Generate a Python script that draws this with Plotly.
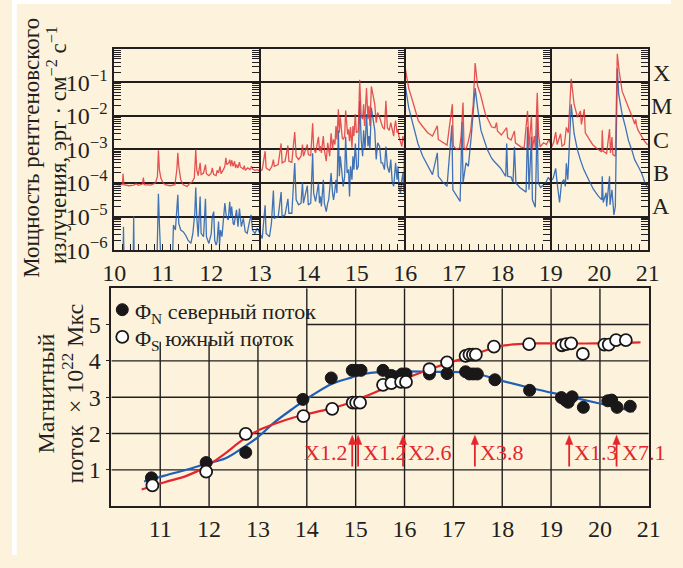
import plotly.graph_objects as go

# ---------------- GOES X-ray flux, exponent of erg cm^-2 s^-1 ----------------
# long channel (1-8 A), red
long_day = [
    10.00, 10.10, 10.17, 10.18, 10.20, 10.30, 10.40, 10.45, 10.50, 10.58, 10.60, 10.62,
    10.75, 10.85, 10.89, 10.91, 10.93, 10.96, 11.00, 11.05, 11.15, 11.25, 11.29, 11.31,
    11.33, 11.37, 11.42, 11.50, 11.55, 11.60, 11.65, 11.68, 11.70, 11.73, 11.77, 11.79,
    11.84, 11.88, 11.90, 11.95, 12.00, 12.05, 12.10, 12.15, 12.20, 12.25, 12.28, 12.30,
    12.32, 12.36, 12.38, 12.40, 12.45, 12.48, 12.50, 12.55, 12.58, 12.60, 12.66, 12.70,
    12.75, 12.80, 12.85, 12.90, 12.95, 13.00, 13.05, 13.11, 13.13, 13.20, 13.25, 13.28,
    13.30, 13.38, 13.44, 13.46, 13.52, 13.58, 13.60, 13.66, 13.72, 13.75, 13.80, 13.85,
    13.88, 13.90, 13.98, 14.00, 14.05, 14.09, 14.11, 14.15, 14.21, 14.23, 14.31, 14.33,
    14.37, 14.42, 14.47, 14.50, 14.55, 14.62, 14.64, 14.66, 14.70, 14.75, 14.77, 14.81,
    14.85, 14.87, 14.90, 14.94, 14.97, 14.99, 15.03, 15.06, 15.09, 15.14, 15.16, 15.20,
    15.23, 15.27, 15.30, 15.37, 15.47, 15.53, 15.60, 15.63, 15.67, 15.73, 15.80, 15.83,
    15.87, 15.93, 15.99, 16.00, 16.07, 16.17, 16.27, 16.35, 16.46, 16.56, 16.66, 16.68,
    16.76, 16.86, 16.97, 16.99, 17.06, 17.12, 17.15, 17.19, 17.21, 17.25, 17.30, 17.35,
    17.40, 17.44, 17.49, 17.55, 17.65, 17.78, 17.85, 17.88, 17.90, 17.98, 18.09, 18.11,
    18.18, 18.25, 18.27, 18.38, 18.45, 18.52, 18.55, 18.60, 18.62, 18.66, 18.68, 18.72,
    18.75, 18.78, 18.85, 18.91, 18.96, 19.02, 19.06, 19.10, 19.13, 19.17, 19.20, 19.23,
    19.28, 19.32, 19.36, 19.42, 19.48, 19.55, 19.61, 19.63, 19.69, 19.71, 19.77, 19.86,
    19.95, 20.05, 20.06, 20.08, 20.15, 20.21, 20.23, 20.26, 20.28, 20.33, 20.37, 20.41,
    20.47, 20.54, 20.60, 20.67, 20.73, 20.75, 20.77, 20.80, 20.87, 20.94, 21.00,
]
long_exp = [
    -4.03, -4.06, -4.04, -3.72, -4.05, -4.08, -4.06, -4.02, -4.07, -4.03, -3.84, -4.05,
    -4.06, -4.00, -3.80, -3.02, -3.60, -3.85, -3.98, -4.05, -4.08, -4.05, -3.60, -3.10,
    -3.50, -3.90, -4.05, -4.10, -4.02, -3.98, -3.85, -3.00, -3.60, -3.78, -3.40, -3.75,
    -3.70, -3.45, -3.72, -3.78, -3.70, -3.75, -3.78, -3.70, -3.72, -3.60, -3.50, -3.25,
    -3.45, -3.40, -3.30, -3.50, -3.50, -3.35, -3.55, -3.55, -3.38, -3.52, -3.58, -3.62,
    -3.55, -3.60, -3.58, -3.62, -3.60, -3.65, -3.60, -3.05, -3.55, -3.62, -3.50, -3.30,
    -3.50, -3.45, -2.82, -3.40, -3.35, -2.88, -3.35, -3.38, -2.48, -3.20, -3.30, -3.20,
    -2.85, -3.20, -2.85, -3.15, -3.18, -2.22, -2.95, -3.10, -2.62, -3.05, -2.60, -3.00,
    -3.35, -3.10, -2.52, -3.00, -2.85, -1.80, -2.50, -2.04, -2.65, -2.60, -1.84, -2.55,
    -2.75, -2.33, -2.95, -2.60, -1.94, -2.50, -2.45, -0.92, -2.00, -1.65, -2.30, -1.17,
    -2.10, -2.30, -1.12, -1.65, -2.04, -2.33, -1.55, -2.35, -2.43, -2.38, -2.14, -2.50,
    -2.62, -2.91, -2.82, -0.59, -1.17, -1.65, -2.15, -2.30, -2.50, -2.60, -2.29, -2.70,
    -2.78, -2.87, -1.65, -2.90, -3.00, -2.95, -2.60, -1.60, -2.95, -3.00, -2.75, -2.40,
    -1.65, -0.42, -1.10, -1.36, -1.94, -2.33, -2.35, -2.20, -2.45, -2.57, -2.35, -2.65,
    -2.72, -2.45, -2.80, -2.92, -2.95, -1.85, -2.95, -2.00, -3.00, -2.60, -2.95, -1.31,
    -2.60, -2.92, -2.80, -2.85, -2.70, -2.92, -2.78, -2.48, -2.85, -2.62, -2.53, -2.90,
    -2.85, -2.34, -2.50, -0.89, -1.65, -2.04, -1.85, -2.25, -1.80, -2.50, -2.65, -2.85,
    -2.97, -3.07, -2.43, -3.05, -3.12, -2.39, -3.10, -2.63, -3.15, -3.20, -0.15, -0.68,
    -1.26, -1.55, -1.75, -2.00, -2.24, -2.10, -2.30, -2.43, -2.62, -2.77, -2.87,
]
# extra samples from the busy interval before the X2.6 flare
long_day_busy = [12.02, 12.12, 12.18, 12.42, 12.52, 12.68, 12.83, 14.25, 14.27, 14.40,
                 14.44, 14.52, 14.57, 14.59, 14.68, 14.72, 14.83, 14.92, 15.12, 15.25,
                 15.40, 15.43, 15.50, 15.57, 15.70, 15.76, 15.78, 15.85, 15.90, 15.95]
long_exp_busy = [-3.55, -3.62, -3.50, -3.32, -3.45, -3.48, -3.50, -2.90, -3.10, -2.80,
                 -3.20, -2.70, -2.30, -2.70, -2.30, -2.70, -2.40, -2.30, -2.10, -1.70,
                 -2.20, -1.90, -2.20, -2.40, -2.20, -2.60, -2.30, -2.40, -2.80, -2.60]

# short channel (0.5-4 A), blue
short_day = [
    10.00, 10.18, 10.19, 10.20, 10.39, 10.40, 10.41, 10.88, 10.90, 10.91, 10.93, 10.96,
    11.20, 11.22, 11.26, 11.29, 11.31, 11.33, 11.37, 11.42, 11.47, 11.52, 11.58, 11.62,
    11.66, 11.68, 11.70, 11.73, 11.77, 11.79, 11.84, 11.88, 11.90, 11.95, 12.00, 12.05,
    12.07, 12.12, 12.15, 12.17, 12.22, 12.25, 12.28, 12.31, 12.35, 12.38, 12.40, 12.45,
    12.50, 12.55, 12.58, 12.62, 12.70, 12.78, 12.85, 12.90, 12.95, 13.00, 13.05, 13.11,
    13.13, 13.20, 13.24, 13.28, 13.30, 13.38, 13.44, 13.46, 13.52, 13.58, 13.60, 13.66,
    13.72, 13.75, 13.80, 13.85, 13.88, 13.90, 13.98, 14.00, 14.05, 14.09, 14.11, 14.15,
    14.21, 14.23, 14.31, 14.33, 14.37, 14.42, 14.47, 14.50, 14.55, 14.62, 14.64, 14.66,
    14.70, 14.75, 14.77, 14.80, 14.85, 14.87, 14.90, 14.94, 14.97, 15.00, 15.03, 15.06,
    15.09, 15.14, 15.17, 15.20, 15.23, 15.27, 15.30, 15.37, 15.47, 15.53, 15.60, 15.63,
    15.67, 15.73, 15.80, 15.83, 15.87, 15.93, 15.97, 16.00, 16.07, 16.17, 16.26, 16.36,
    16.46, 16.56, 16.66, 16.68, 16.76, 16.86, 16.96, 16.98, 17.06, 17.13, 17.17, 17.19,
    17.25, 17.30, 17.36, 17.40, 17.44, 17.49, 17.56, 17.69, 17.78, 17.83, 17.96, 18.07,
    18.09, 18.11, 18.18, 18.22, 18.25, 18.28, 18.36, 18.49, 18.52, 18.55, 18.60, 18.62,
    18.66, 18.68, 18.72, 18.74, 18.79, 18.89, 18.95, 19.00, 19.05, 19.10, 19.13, 19.18,
    19.22, 19.27, 19.30, 19.32, 19.35, 19.38, 19.42, 19.48, 19.55, 19.61, 19.68, 19.78,
    19.88, 19.98, 20.05, 20.06, 20.08, 20.14, 20.15, 20.21, 20.22, 20.26, 20.28, 20.30,
    20.33, 20.37, 20.40, 20.47, 20.54, 20.60, 20.67, 20.73, 20.80, 20.87, 20.94, 21.00,
]
short_exp = [
    -6.30, -6.30, -5.30, -6.30, -6.30, -4.98, -6.30, -6.30, -4.80, -4.32, -5.20, -6.30,
    -6.30, -5.25, -5.40, -4.90, -4.35, -5.20, -5.40, -5.45, -5.55, -5.70, -5.80, -5.50,
    -4.90, -4.13, -5.00, -5.60, -4.40, -5.50, -5.60, -4.47, -5.60, -5.80, -5.50, -4.85,
    -5.70, -5.75, -5.15, -5.85, -5.60, -5.10, -4.60, -5.00, -5.10, -4.56, -5.00, -5.20,
    -4.90, -5.30, -4.76, -5.30, -5.45, -5.20, -5.40, -5.50, -5.35, -5.50, -5.65, -4.66,
    -5.50, -5.60, -5.20, -4.22, -5.05, -5.00, -4.27, -5.00, -4.95, -4.47, -4.90, -4.90,
    -3.40, -4.50, -4.65, -4.60, -3.98, -4.60, -4.08, -4.65, -4.60, -3.11, -4.30, -4.55,
    -4.00, -4.60, -3.90, -4.60, -4.85, -4.50, -3.70, -4.30, -4.20, -2.43, -3.80, -3.20,
    -3.90, -3.80, -2.62, -3.70, -4.40, -3.50, -3.90, -3.60, -2.82, -3.60, -3.50, -1.55,
    -2.70, -2.43, -3.00, -1.94, -2.90, -3.00, -1.75, -2.43, -2.91, -3.40, -2.91, -3.50,
    -3.69, -3.98, -3.40, -3.90, -4.17, -3.88, -4.27, -1.10, -1.75, -2.33, -2.82, -3.20,
    -3.50, -3.75, -3.10, -3.80, -3.95, -4.10, -2.28, -4.20, -4.38, -4.55, -2.18, -4.00,
    -3.40, -3.50, -2.60, -1.80, -1.17, -1.75, -2.43, -3.00, -3.26, -3.35, -3.55, -3.80,
    -2.82, -3.80, -3.82, -3.98, -2.92, -4.00, -4.13, -4.27, -2.33, -4.20, -2.62, -4.50,
    -4.66, -4.72, -2.04, -4.00, -4.13, -4.00, -3.83, -3.95, -3.85, -3.56, -4.00, -4.58,
    -4.00, -3.90, -4.10, -3.41, -3.90, -2.80, -1.65, -2.53, -3.02, -3.31, -3.60, -3.90,
    -4.19, -4.39, -4.50, -3.80, -4.58, -4.29, -4.70, -3.80, -4.65, -4.20, -4.70, -4.95,
    -4.70, -0.58, -1.36, -1.95, -2.34, -2.73, -3.02, -3.31, -3.50, -3.70, -3.99, -4.14,
]
short_day_busy = [12.02, 12.10, 12.19, 12.42, 12.47, 12.52, 12.66, 12.74, 12.82, 14.25,
                  14.27, 14.40, 14.44, 14.52, 14.57, 14.59, 14.68, 14.72, 14.83, 14.92,
                  15.12, 15.25, 15.40, 15.43, 15.50, 15.57, 15.70, 15.76, 15.78, 15.85,
                  15.90, 15.95]
short_exp_busy = [-5.00, -5.85, -5.40, -4.70, -5.25, -4.80, -5.05, -5.50, -4.95, -4.40,
                  -4.70, -4.60, -4.20, -4.50, -3.90, -4.30, -3.50, -4.10, -3.60, -3.20,
                  -3.20, -2.60, -3.30, -2.80, -3.40, -3.60, -3.30, -4.10, -3.60, -3.50,
                  -4.30, -3.70]

decade_exp = [-6, -5, -4, -3, -2, -1]
decade_text = ["10<sup>−6</sup>", "10<sup>−5</sup>", "10<sup>−4</sup>",
               "10<sup>−3</sup>", "10<sup>−2</sup>", "10<sup>−1</sup>"]
goes_letters = ["X", "M", "C", "B", "A"]
goes_letter_exp = [-0.72, -1.71, -2.71, -3.70, -4.69]
day_ticks_top = [10, 11, 12, 13, 14, 15, 16, 17, 18, 19, 20, 21]
panel_breaks = [13, 16, 19]

# ---------------- magnetic flux, 10^22 Mx ----------------
north_day = [10.82, 11.94, 12.75, 13.92, 14.50, 14.93, 15.01, 15.11, 15.56, 15.73,
             15.95, 16.03, 16.51, 16.87, 17.25, 17.33, 17.41, 17.49, 17.85, 18.56,
             19.21, 19.29, 19.35, 19.43, 19.66, 20.16, 20.24, 20.35, 20.62]
north_flux = [0.78, 1.20, 1.48, 2.94, 3.53, 3.74, 3.74, 3.74, 3.74, 3.60,
              3.64, 3.64, 3.64, 3.65, 3.70, 3.64, 3.64, 3.64, 3.48, 3.19,
              2.99, 2.92, 2.86, 3.01, 2.72, 2.90, 2.92, 2.72, 2.75]
south_day = [10.84, 11.94, 12.75, 13.93, 14.52, 14.94, 15.01, 15.09, 15.56, 15.73,
             15.93, 16.03, 16.51, 16.87, 17.25, 17.33, 17.40, 17.46, 17.83, 18.55,
             19.22, 19.31, 19.41, 19.65, 20.09, 20.18, 20.33, 20.53]
south_flux = [0.57, 0.95, 1.99, 2.48, 2.68, 2.85, 2.85, 2.85, 3.34, 3.39,
              3.42, 3.42, 3.77, 3.96, 4.14, 4.17, 4.17, 4.17, 4.39, 4.46,
              4.43, 4.46, 4.48, 4.19, 4.45, 4.45, 4.57, 4.57]

north_fit_day = [10.67, 11.09, 11.55, 11.95, 12.34, 12.67, 13.00, 13.33, 13.73, 14.12,
                 14.52, 14.91, 15.17, 15.47, 16.00, 16.65, 17.31, 17.64, 17.97, 18.63,
                 19.29, 19.95, 20.70]
north_fit_flux = [0.68, 0.84, 1.01, 1.17, 1.32, 1.59, 1.90, 2.30, 2.70, 3.06,
                  3.37, 3.54, 3.64, 3.69, 3.71, 3.70, 3.68, 3.59, 3.46, 3.24,
                  3.04, 2.84, 2.61]
south_fit_day = [10.62, 11.09, 11.55, 11.95, 12.34, 12.67, 13.00, 13.33, 13.73, 14.12,
                 14.52, 14.91, 15.17, 15.34, 16.00, 16.65, 17.31, 17.64, 17.97, 18.63,
                 19.29, 19.95, 20.83]
south_fit_flux = [0.46, 0.66, 0.84, 1.10, 1.46, 1.81, 2.08, 2.26, 2.44, 2.57,
                  2.70, 2.86, 3.01, 3.10, 3.50, 3.83, 4.12, 4.28, 4.41, 4.48,
                  4.48, 4.48, 4.51]

flare_day = [14.93, 15.05, 15.97, 17.44, 19.37, 20.34]
flare_class = ["X1.2", "X1.2", "X2.6", "X3.8", "X1.3", "X7.1"]
flare_label_left = [True, False, False, False, False, False]
flux_ticks = [1, 2, 3, 4, 5]
day_ticks_bottom = [11, 12, 13, 14, 15, 16, 17, 18, 19, 20, 21]

# ---------------- styling ----------------
W, H = 683, 568
BG = "#FDF3DD"
INK = "#231F20"
RED = "#E3262C"
BLUE = "#1F5FB4"
LONG_RED = "#E0363A"
SHORT_BLUE = "#1E5BB0"
SERIF = "Liberation Serif"

top_px = dict(left=106, right=659, top=50, bottom=256)
bot_px = dict(left=103, right=660, top=295, bottom=518)


def merged(days, exps, more_days, more_exps):
    pts = sorted(zip(days + more_days, exps + more_exps))
    return [p[0] for p in pts], [10 ** p[1] for p in pts]


short_x, short_y = merged(short_day, short_exp, short_day_busy, short_exp_busy)
long_x, long_y = merged(long_day, long_exp, long_day_busy, long_exp_busy)

fig = go.Figure()

fig.add_trace(go.Scatter(
    x=short_x, y=short_y, mode="lines",
    line=dict(color=SHORT_BLUE, width=1.3), opacity=0.85,
    xaxis="x", yaxis="y", showlegend=False, hoverinfo="skip"))
fig.add_trace(go.Scatter(
    x=long_x, y=long_y, mode="lines",
    line=dict(color=LONG_RED, width=1.3), opacity=0.85,
    xaxis="x", yaxis="y", showlegend=False, hoverinfo="skip"))

# fitted curves and measurements
fig.add_trace(go.Scatter(
    x=north_fit_day, y=north_fit_flux, mode="lines", line_shape="spline",
    line=dict(color=BLUE, width=2.2), xaxis="x2", yaxis="y2",
    showlegend=False, hoverinfo="skip"))
fig.add_trace(go.Scatter(
    x=south_fit_day, y=south_fit_flux, mode="lines", line_shape="spline",
    line=dict(color=RED, width=2.2), xaxis="x2", yaxis="y2",
    showlegend=False, hoverinfo="skip"))
fig.add_trace(go.Scatter(
    x=north_day, y=north_flux, mode="markers",
    marker=dict(symbol="circle", size=12, color="#1A1718",
                line=dict(color="#1A1718", width=1)),
    xaxis="x2", yaxis="y2", showlegend=False, hoverinfo="skip"))
fig.add_trace(go.Scatter(
    x=south_day, y=south_flux, mode="markers",
    marker=dict(symbol="circle", size=12, color="white",
                line=dict(color="#1A1718", width=1.8)),
    xaxis="x2", yaxis="y2", showlegend=False, hoverinfo="skip"))

minor_vals = [k * 10.0 ** e for e in decade_exp for k in range(2, 10)]
decade_vals = [10.0 ** e for e in decade_exp]

axis_font = dict(family=SERIF, size=24, color=INK)

layout = dict(
    width=W, height=H, autosize=False,
    margin=dict(l=0, r=0, t=0, b=0, pad=0),
    paper_bgcolor=BG, plot_bgcolor=BG,
    showlegend=False,
    font=dict(family=SERIF, color=INK),
    xaxis=dict(
        domain=[top_px["left"] / W, top_px["right"] / W], anchor="y",
        range=[10, 21], tickmode="array", tickvals=day_ticks_top,
        ticks="inside", ticklen=6, tickwidth=1, tickcolor=INK,
        minor=dict(dtick=1 / 6, ticks="inside", ticklen=6, tickwidth=1, tickcolor=INK),
        showline=True, linecolor=INK, linewidth=1.6, mirror=True,
        showgrid=False, zeroline=False, tickfont=axis_font),
    yaxis=dict(
        domain=[1 - top_px["bottom"] / H, 1 - top_px["top"] / H], anchor="x",
        type="log", range=[-6, 0], tickmode="array",
        tickvals=decade_vals, ticktext=decade_text,
        ticks="inside", ticklen=7, tickwidth=1, tickcolor=INK,
        minor=dict(tickmode="array", tickvals=minor_vals, ticks="inside",
                   ticklen=7, tickwidth=1, tickcolor=INK),
        showgrid=True, gridcolor=INK, gridwidth=1.7,
        showline=True, linecolor=INK, linewidth=1.6, mirror="allticks",
        zeroline=False, tickfont=axis_font),
    xaxis2=dict(
        domain=[bot_px["left"] / W, bot_px["right"] / W], anchor="y2",
        range=[10, 21], tickmode="array", tickvals=day_ticks_bottom, ticks="",
        showline=True, linecolor=INK, linewidth=1.6, mirror=True,
        showgrid=False, zeroline=False, tickfont=axis_font),
    yaxis2=dict(
        domain=[1 - bot_px["bottom"] / H, 1 - bot_px["top"] / H], anchor="x2",
        range=[0, 6], tickmode="array", tickvals=flux_ticks,
        ticks="outside", ticklen=4, tickwidth=1.4, tickcolor=INK,
        showline=True, linecolor=INK, linewidth=1.6, mirror=True,
        showgrid=False, zeroline=False, tickfont=axis_font),
)

# separators between the three-day blocks, each carrying its own log ticks
day_px = (top_px["right"] - top_px["left"]) / 11
for i, d in enumerate(panel_breaks):
    key = f"yaxis{3 + i}"
    layout[key] = dict(
        overlaying="y", anchor="free", side="right",
        position=(top_px["left"] + (d - 10) * day_px) / W,
        type="log", range=[-6, 0], tickmode="array", tickvals=decade_vals,
        ticks="inside", ticklen=7, tickwidth=1, tickcolor=INK,
        minor=dict(tickmode="array", tickvals=minor_vals, ticks="inside",
                   ticklen=7, tickwidth=1, tickcolor=INK),
        showticklabels=False, showgrid=False, zeroline=False,
        showline=True, linecolor=INK, linewidth=1.6)
    fig.add_trace(go.Scatter(x=[], y=[], xaxis="x", yaxis=f"y{3 + i}",
                             showlegend=False, hoverinfo="skip"))

fig.update_layout(**layout)

shapes = []
# thin white edge along the left and top of the page
shapes.append(dict(type="rect", xref="paper", yref="paper", x0=0, x1=5 / W, y0=0, y1=1,
                   fillcolor="white", line=dict(width=0), layer="below"))
shapes.append(dict(type="rect", xref="paper", yref="paper", x0=0, x1=1, y0=1 - 4 / H, y1=1,
                   fillcolor="white", line=dict(width=0), layer="below"))

# grid of the flux panel (the key box keeps its corner clear)
key_right_day, key_bottom_flux = 14, 4.53
for d in day_ticks_bottom[:-1]:
    top = key_bottom_flux if d < key_right_day else 6
    shapes.append(dict(type="line", xref="x2", yref="y2", x0=d, x1=d, y0=0, y1=top,
                       line=dict(color=INK, width=1.4), layer="below"))
for f in flux_ticks:
    left = key_right_day if f > key_bottom_flux else 10
    shapes.append(dict(type="line", xref="x2", yref="y2", x0=left, x1=21, y0=f, y1=f,
                       line=dict(color=INK, width=1.4), layer="below"))

# flare arrows: shaft plus a narrow filled head
arrow_tail, arrow_tip, head_base, head_half = 1.09, 1.95, 1.70, 0.075
for d in flare_day:
    shapes.append(dict(type="line", xref="x2", yref="y2", x0=d, x1=d,
                       y0=arrow_tail, y1=head_base + 0.05,
                       line=dict(color=RED, width=1.8)))
    shapes.append(dict(type="path", xref="x2", yref="y2",
                       path=f"M {d - head_half},{head_base} L {d},{arrow_tip} "
                            f"L {d + head_half},{head_base} Z",
                       fillcolor=RED, line=dict(color=RED, width=0.5)))

# key symbols
key_x = 10.223
key_rows = [5.41, 4.66]
shapes.append(dict(type="circle", xref="x2", yref="y2", xsizemode="pixel", ysizemode="pixel",
                   xanchor=key_x, yanchor=key_rows[0], x0=-6, x1=6, y0=-6, y1=6,
                   fillcolor="#1A1718", line=dict(color="#1A1718", width=1)))
shapes.append(dict(type="circle", xref="x2", yref="y2", xsizemode="pixel", ysizemode="pixel",
                   xanchor=key_x, yanchor=key_rows[1], x0=-6, x1=6, y0=-6, y1=6,
                   fillcolor="white", line=dict(color="#1A1718", width=1.8)))
fig.update_layout(shapes=shapes)

ann = []
key_font = dict(family=SERIF, size=22, color=INK)
ann.append(dict(xref="x2", yref="y2", x=10.45, y=key_rows[0], xanchor="left", yanchor="middle",
                text="Φ<sub>N</sub> северный поток", showarrow=False, font=key_font, yshift=-3))
ann.append(dict(xref="x2", yref="y2", x=10.45, y=key_rows[1], xanchor="left", yanchor="middle",
                text="Φ<sub>S</sub> южный поток", showarrow=False, font=key_font, yshift=-3))

# flare classes beside the arrows
for d, label, left in zip(flare_day, flare_class, flare_label_left):
    ann.append(dict(xref="x2", yref="y2", x=d, y=1.47, text=label, showarrow=False,
                    xanchor="right" if left else "left", yanchor="middle",
                    xshift=-3 if left else 3,
                    font=dict(family=SERIF, size=22, color=RED)))

# GOES class letters on the right
for letter, e in zip(goes_letters, goes_letter_exp):
    ann.append(dict(xref="paper", yref="y", x=673 / W, y=e, text=letter, showarrow=False,
                    xanchor="center", yanchor="middle",
                    font=dict(family=SERIF, size=24, color=INK)))

# axis titles
ann.append(dict(xref="paper", yref="paper", x=20 / W, y=1 - 151 / H, textangle=-90,
                text="Мощность рентгеновского", showarrow=False,
                xanchor="center", yanchor="middle", font=dict(family=SERIF, size=23, color=INK)))
ann.append(dict(xref="paper", yref="paper", x=47 / W, y=1 - 148 / H, textangle=-90,
                text="излучения, эрг · см<sup>−2</sup> с<sup>−1</sup>", showarrow=False,
                xanchor="center", yanchor="middle", font=dict(family=SERIF, size=23, color=INK)))
ann.append(dict(xref="paper", yref="paper", x=35 / W, y=1 - 403 / H, textangle=-90,
                text="Магнитный", showarrow=False,
                xanchor="center", yanchor="middle", font=dict(family=SERIF, size=24, color=INK)))
ann.append(dict(xref="paper", yref="paper", x=63 / W, y=1 - 403 / H, textangle=-90,
                text="поток  × 10<sup>22</sup> Мкс", showarrow=False,
                xanchor="center", yanchor="middle", font=dict(family=SERIF, size=24, color=INK)))

fig.update_layout(annotations=ann)

fig.write_html("out.html")
